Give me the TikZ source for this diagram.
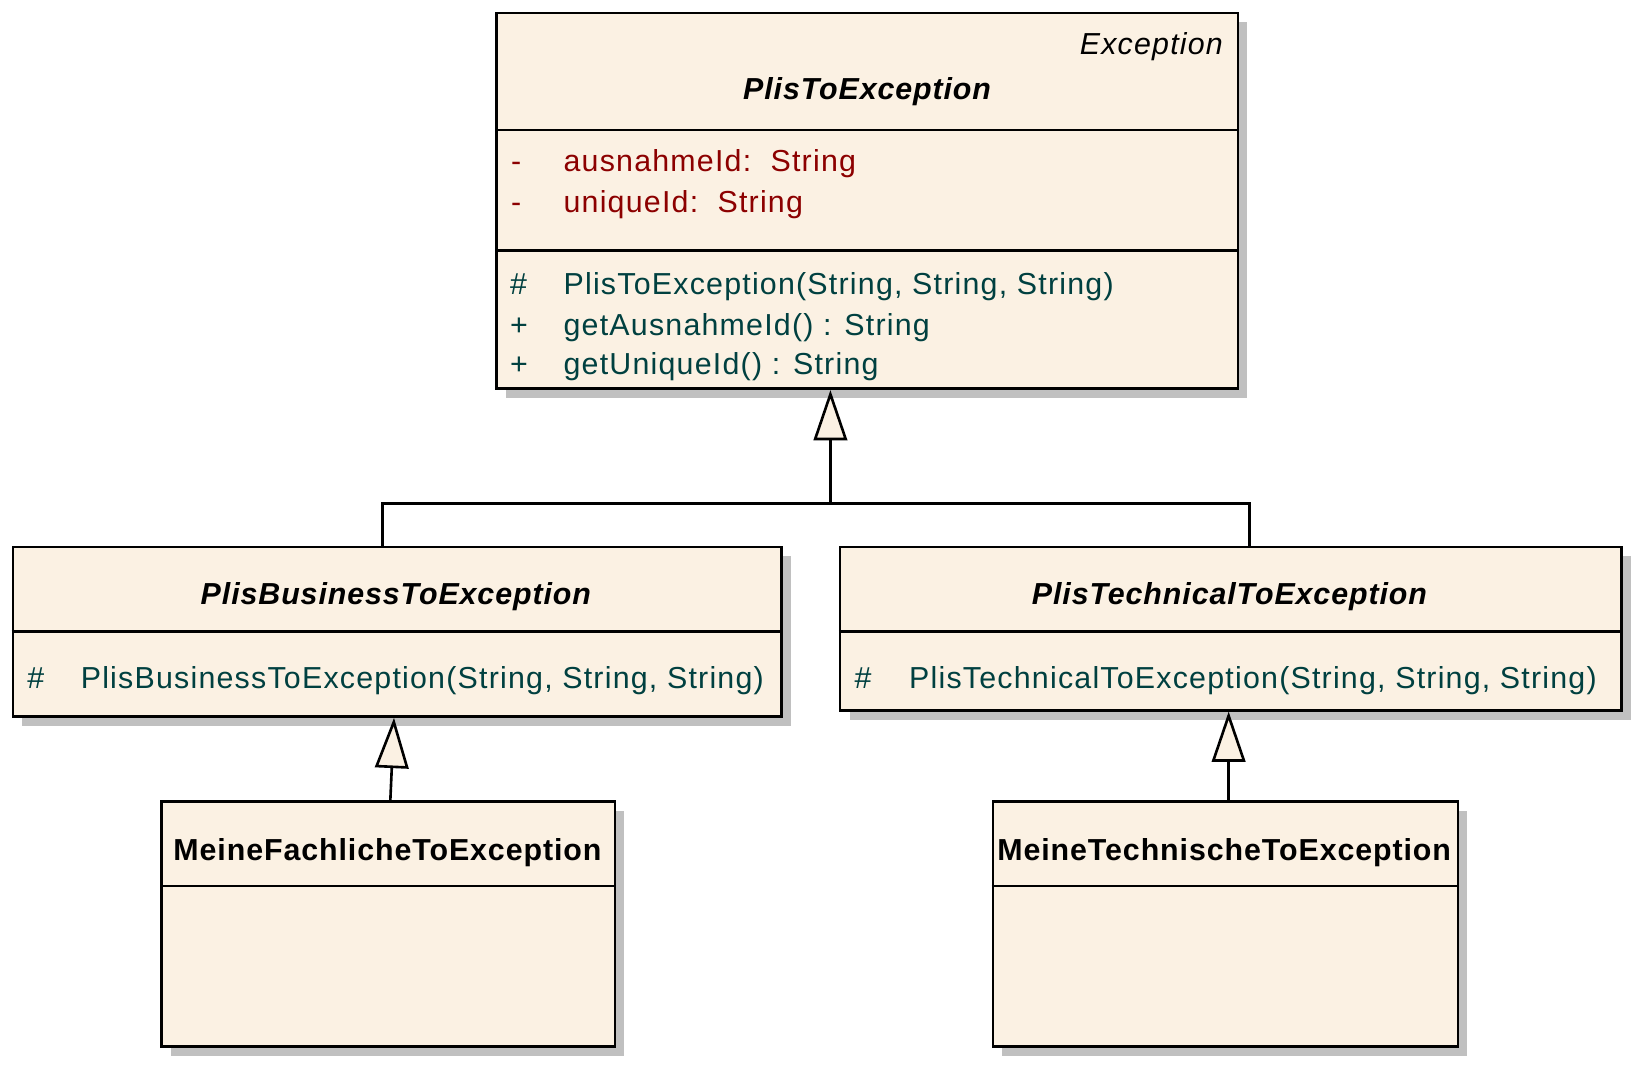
\documentclass[tikz,border=0pt]{standalone}
\usepackage{fontspec}
\setmainfont{Liberation Sans}[LetterSpace=4.0]
\newfontfamily\ttlfont{Liberation Sans}[LetterSpace=3.0]
\usetikzlibrary{arrows.meta,shadows}
\definecolor{cfill}{RGB}{251,241,227}
\definecolor{cattr}{RGB}{140,0,0}
\definecolor{cmeth}{RGB}{0,64,64}
\definecolor{cshadow}{RGB}{192,192,192}
\tikzset{
  cls/.style={draw, line width=2.5pt, fill=cfill, inner sep=0pt, anchor=north west,
    drop shadow={shadow xshift=9pt, shadow yshift=-9pt, fill=cshadow, opacity=1}},
  sep/.style={line width=2.5pt},
  txt/.style={inner sep=0pt, font=\fontsize{29}{35}\selectfont},
  attr/.style={txt, text=cattr, anchor=base west},
  meth/.style={txt, text=cmeth, anchor=base west},
  ttl/.style={txt, anchor=base, font=\fontsize{29}{35}\selectfont\ttlfont\bfseries},
  gen/.style={line width=2.5pt, -{Triangle[length=48pt, width=32pt, fill=cfill]}},
}
\begin{document}
\begin{tikzpicture}[x=1pt,y=-1pt]
\useasboundingbox (0,0) rectangle (1568,1018);
% classes
\node[cls, minimum width=708pt, minimum height=359pt] (top) at (473,11) {};
\node[cls, minimum width=734pt, minimum height=162pt] (bus) at (11,521) {};
\node[cls, minimum width=746pt, minimum height=156pt] (tec) at (801,521) {};
\node[cls, minimum width=433pt, minimum height=234pt] (fach) at (153,764) {};
\node[cls, minimum width=444pt, minimum height=234pt] (tech) at (947,764) {};
% separators
\draw[sep] ([yshift=-113pt]top.north west) -- ([yshift=-113pt]top.north east);
\draw[sep] ([yshift=-228pt]top.north west) -- ([yshift=-228pt]top.north east);
\draw[sep] ([yshift=-82pt]bus.north west) -- ([yshift=-82pt]bus.north east);
\draw[sep] ([yshift=-82pt]tec.north west) -- ([yshift=-82pt]tec.north east);
\draw[sep] ([yshift=-82pt]fach.north west) -- ([yshift=-82pt]fach.north east);
\draw[sep] ([yshift=-82pt]tech.north west) -- ([yshift=-82pt]tech.north east);
% top class texts
\node[txt, anchor=base east] (stereo) at (1168,52) {\itshape Exception};
\node[ttl] (topname) at (828,95) {\itshape PlisToException};
\node[attr] (a1s) at (488,164) {-};
\node[attr] (a1) at (538,164) {ausnahmeId:\ \ String};
\node[attr] (a2s) at (488,203) {-};
\node[attr] (a2) at (538,203) {uniqueId:\ \ String};
\node[meth] (m1s) at (487,281) {\#};
\node[meth] (m1) at (538,281) {PlisToException(String, String, String)};
\node[meth] (m2s) at (487,320) {+};
\node[meth] (m2) at (538,320) {getAusnahmeId() : String};
\node[meth] (m3s) at (487,358) {+};
\node[meth] (m3) at (538,358) {getUniqueId() : String};
% business
\node[ttl] (busname) at (378,577) {\itshape PlisBusinessToException};
\node[meth] (bm1s) at (26,657) {\#};
\node[meth] (bm1) at (77,657) {PlisBusinessToException(String, String, String)};
% technical
\node[ttl] (tecname) at (1174,577) {\itshape PlisTechnicalToException};
\node[meth] (tm1s) at (816,657) {\#};
\node[meth] (tm1) at (868,657) {PlisTechnicalToException(String, String, String)};
% concrete
\node[ttl] (fachname) at (370,822) {MeineFachlicheToException};
\node[ttl] (techname) at (1169,822) {MeineTechnischeToException};
% generalizations
\coordinate (tb) at ([xshift=320pt]top.south west);
\coordinate (bb) at ([xshift=354pt]bus.north west);
\coordinate (tcb) at ([xshift=392pt]tec.north west);
\coordinate (jn) at (793,481);
\draw[line width=2.5pt] (bb) |- (jn) -| (tcb);
\draw[gen] (jn) -- (tb);
\draw[gen] ([xshift=2pt]fach.north) -- ([xshift=-3pt]bus.south);
\draw[gen] ([xshift=3pt]tech.north) -- ([xshift=-2pt]tec.south);
\end{tikzpicture}
\end{document}
